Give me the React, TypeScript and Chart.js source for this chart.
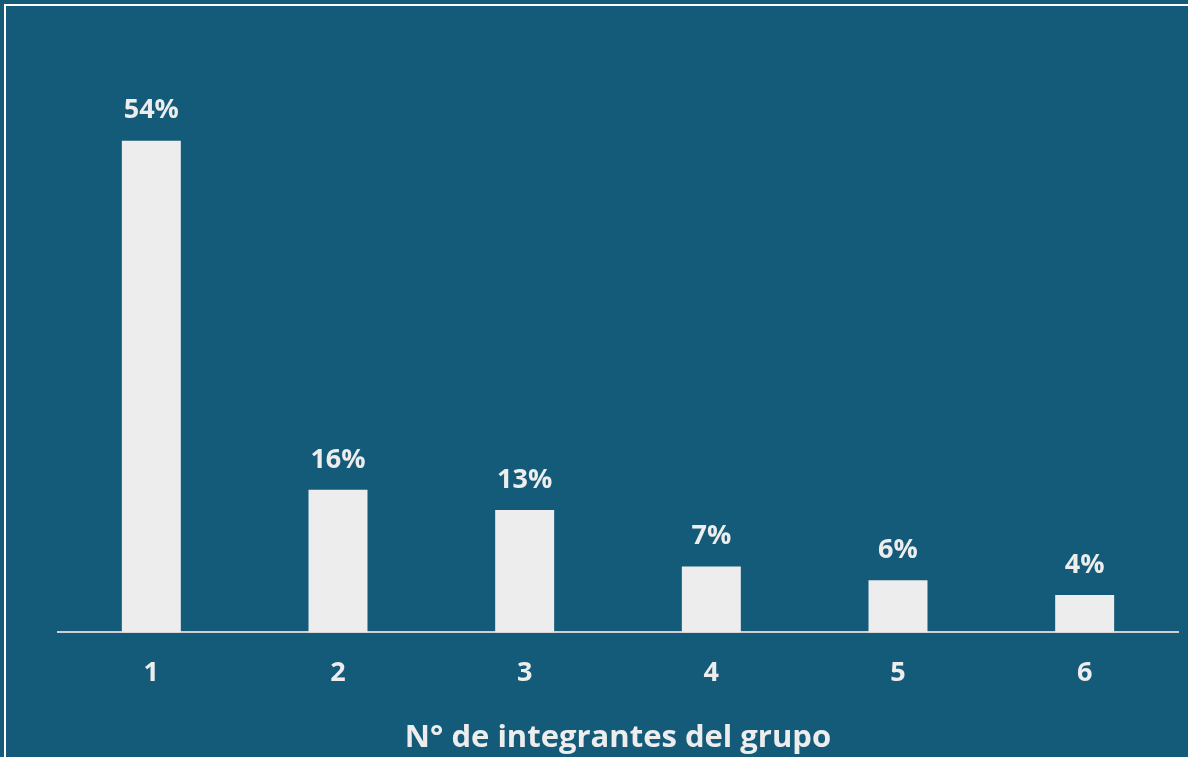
import React, { useEffect, useRef } from "react";
import { Chart, registerables } from "chart.js";

Chart.register(...registerables);

const categories = ["1", "2", "3", "4", "5", "6"];
const shares = [53.8, 15.6, 13.4, 7.2, 5.7, 4.1];
const axisTitle = "N° de integrantes del grupo";

const BG = "#145B7A";
const FG = "#EDEDED";
const FONT = "'Open Sans', 'DejaVu Sans', sans-serif";

const valueLabels = {
  id: "valueLabels",
  afterDatasetsDraw(chart: any) {
    const ctx = chart.ctx;
    const meta = chart.getDatasetMeta(0);
    ctx.save();
    ctx.fillStyle = FG;
    ctx.font = `bold 27px ${FONT}`;
    ctx.textAlign = "center";
    ctx.textBaseline = "middle";
    meta.data.forEach((bar: any, i: number) => {
      const v = chart.data.datasets[0].data[i] as number;
      ctx.fillText(`${Math.round(v)}%`, bar.x, bar.y - 30);
    });
    ctx.restore();
  },
};

export default function App() {
  const ref = useRef<HTMLCanvasElement>(null);
  useEffect(() => {
    document.body.style.margin = "0";
    const chart = new Chart(ref.current!, {
      type: "bar",
      data: {
        labels: categories,
        datasets: [
          {
            data: shares,
            backgroundColor: FG,
            borderWidth: 0,
            barPercentage: 0.316,
            categoryPercentage: 1,
          },
        ],
      },
      options: {
        animation: false,
        responsive: false,
        maintainAspectRatio: false,
        layout: { padding: { left: 58, right: 10, top: 84, bottom: 0 } },
        plugins: {
          legend: { display: false },
          tooltip: { enabled: false },
        },
        scales: {
          x: {
            grid: { display: false, drawTicks: false },
            border: { display: true, color: "#D0D0D0", width: 2 },
            ticks: {
              color: FG,
              padding: 25,
              font: { family: FONT, size: 27, weight: "bold" },
            },
            title: {
              display: true,
              text: axisTitle,
              color: FG,
              font: { family: FONT, size: 31, weight: "bold" },
              padding: { top: 5, bottom: 0 },
            },
          },
          y: {
            display: false,
            min: 0,
            max: 60,
          },
        },
      },
      plugins: [valueLabels],
    });
    return () => chart.destroy();
  }, []);

  return (
    <div
      style={{
        position: "fixed",
        left: 0,
        top: 0,
        width: 1188,
        height: 757,
        background: BG,
        overflow: "hidden",
      }}
    >
      <canvas
        ref={ref}
        width={1188}
        height={757}
        style={{ position: "absolute", left: 0, top: 0, width: 1188, height: 757 }}
      />
      <div
        style={{
          position: "absolute",
          left: 4,
          top: 4,
          width: 1300,
          height: 900,
          border: "2px solid #FFFFFF",
          pointerEvents: "none",
        }}
      />
    </div>
  );
}
